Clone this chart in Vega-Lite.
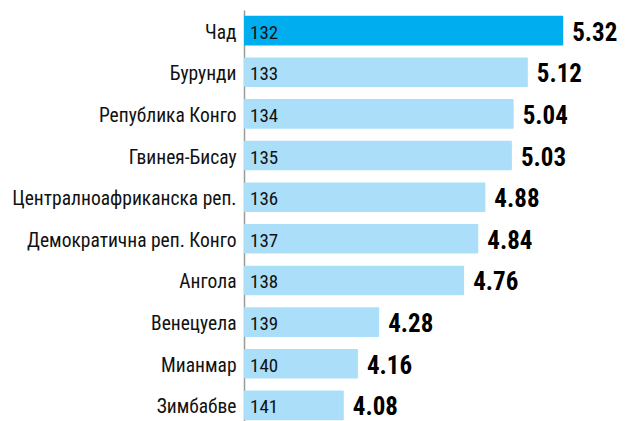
{
  "$schema": "https://vega.github.io/schema/vega-lite/v6.json",
  "autosize": {"type": "none"},
  "padding": {"left": 244, "top": 10, "right": 0, "bottom": 0},
  "width": 390,
  "height": 416,
  "background": "white",
  "config": {"view": {"stroke": null}},
  "data": {"values": [
    {"country": "Чад", "rank": 132, "value": 5.32, "hl": "yes"},
    {"country": "Бурунди", "rank": 133, "value": 5.12, "hl": "no"},
    {"country": "Република Конго", "rank": 134, "value": 5.04, "hl": "no"},
    {"country": "Гвинея-Бисау", "rank": 135, "value": 5.03, "hl": "no"},
    {"country": "Централноафриканска реп.", "rank": 136, "value": 4.88, "hl": "no"},
    {"country": "Демократична реп. Конго", "rank": 137, "value": 4.84, "hl": "no"},
    {"country": "Ангола", "rank": 138, "value": 4.76, "hl": "no"},
    {"country": "Венецуела", "rank": 139, "value": 4.28, "hl": "no"},
    {"country": "Мианмар", "rank": 140, "value": 4.16, "hl": "no"},
    {"country": "Зимбабве", "rank": 141, "value": 4.08, "hl": "no"}
  ]},
  "encoding": {
    "y": {
      "field": "country", "type": "nominal", "sort": null,
      "scale": {"paddingInner": 0.29, "paddingOuter": 0.14},
      "axis": {
        "title": null, "ticks": false, "labelPadding": 8,
        "labelFont": "Roboto Condensed",
        "labelFontSize": 19.5, "labelColor": "#111111",
        "labelLimit": 400,
        "labelOffset": 2,
        "domainColor": "#9a9a9a", "domainWidth": 1.5
      }
    }
  },
  "layer": [
    {
      "mark": {"type": "bar", "cornerRadiusEnd": 1},
      "encoding": {
        "x": {"field": "value", "type": "quantitative", "scale": {"domain": [3.516, 5.72], "zero": false, "nice": false}, "axis": null},
        "x2": {"datum": 3.516},
        "color": {"field": "hl", "type": "nominal", "scale": {"domain": ["yes", "no"], "range": ["#00adef", "#abdff9"]}, "legend": null}
      }
    },
    {
      "mark": {"type": "text", "align": "left", "baseline": "middle", "dx": 6, "dy": 2, "font": "Roboto Condensed", "fontSize": 19, "color": "#111111"},
      "encoding": {
        "x": {"datum": 3.516, "type": "quantitative"},
        "text": {"field": "rank", "type": "nominal"}
      }
    },
    {
      "mark": {"type": "text", "align": "left", "baseline": "middle", "dx": 9, "dy": 2, "font": "Roboto Condensed", "fontSize": 25, "fontWeight": "bold", "color": "#000000"},
      "encoding": {
        "x": {"field": "value", "type": "quantitative"},
        "text": {"field": "value", "type": "quantitative", "format": ".2f"}
      }
    }
  ]
}
